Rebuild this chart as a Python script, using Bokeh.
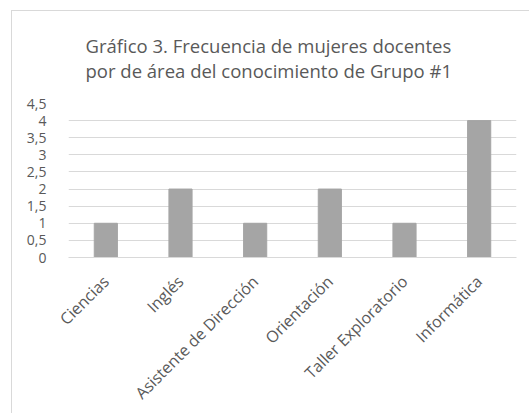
import math
from bokeh.plotting import figure
from bokeh.models import Title, ColumnDataSource, Range1d, FixedTicker, CustomJSTickFormatter
from bokeh.embed import file_html
from bokeh.resources import INLINE

categories = ["Ciencias", "Inglés", "Asistente de Dirección", "Orientación", "Taller Exploratorio", "Informática"]
values = [1, 2, 1, 2, 1, 4]
y_ticks = [0, 0.5, 1, 1.5, 2, 2.5, 3, 3.5, 4, 4.5]
title_lines = ["Gráfico 3. Frecuencia de mujeres docentes", "por de área del conocimiento de Grupo #1"]

FONT = "Open Sans"
TXT = "#595959"

p = figure(x_range=categories, y_range=Range1d(0, 4.5), width=518, height=403,
           output_backend="svg", toolbar_location=None,
           min_border_left=56, min_border_right=14, min_border_top=92, min_border_bottom=157)
p.margin = (10, 0, 0, 11)
p.styles = {"border-left": "1px solid #d9d9d9", "border-top": "1px solid #d9d9d9"}

p.add_layout(Title(text="\n".join(title_lines), align="left", offset=17, standoff=38,
                   vertical_align="top",
                   text_font=FONT, text_font_size="18.5px", text_color=TXT,
                   text_font_style="normal", text_line_height=1.0), "above")

src = ColumnDataSource(dict(cat=categories, val=values))
p.vbar(x="cat", top="val", width=0.31, source=src, fill_color="#a5a5a5", line_color="#a5a5a5")

p.outline_line_color = None
p.background_fill_color = "white"
p.border_fill_color = "white"

p.xgrid.grid_line_color = None
p.ygrid.grid_line_color = "#d9d9d9"
p.ygrid.grid_line_width = 1

p.yaxis.ticker = FixedTicker(ticks=y_ticks)
p.yaxis.formatter = CustomJSTickFormatter(code="return String(tick).replace('.', ',');")
p.yaxis.axis_line_color = None
p.yaxis.major_tick_line_color = None
p.yaxis.minor_tick_line_color = None
p.yaxis.major_label_text_font = FONT
p.yaxis.major_label_text_font_size = "14px"
p.yaxis.major_label_text_color = TXT
p.yaxis.major_label_standoff = 16

p.xaxis.axis_line_color = "#d9d9d9"
p.xaxis.major_tick_line_color = None
p.xaxis.minor_tick_line_color = None
p.xaxis.major_label_orientation = math.pi / 4
p.xaxis.major_label_text_font = FONT
p.xaxis.major_label_text_font_size = "16px"
p.xaxis.major_label_text_color = TXT
p.xaxis.major_label_standoff = 15
p.x_range.range_padding = 0

open("out.html", "w").write(file_html(p, INLINE))
